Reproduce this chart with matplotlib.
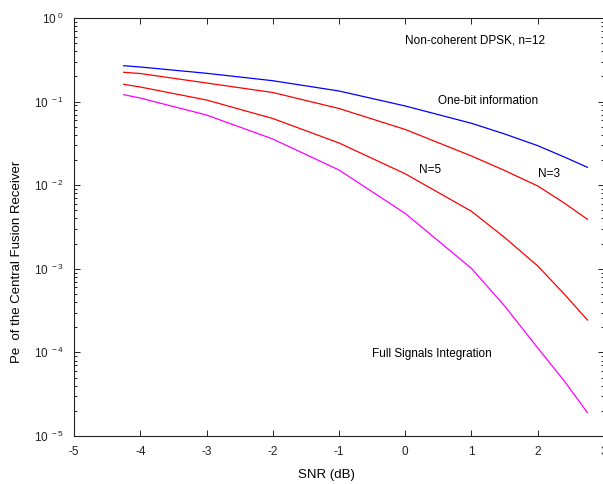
import numpy as np
import matplotlib
matplotlib.use('Agg')
import matplotlib.pyplot as plt
from matplotlib.ticker import FixedLocator, FuncFormatter, LogLocator, NullFormatter

plt.rcParams['font.family'] = ['Liberation Sans', 'DejaVu Sans']
plt.rcParams['mathtext.default'] = 'regular'
plt.rcParams['axes.unicode_minus'] = False

# SNR (dB) sample points
snr = [-4.25, -4, -3, -2, -1, 0, 1, 1.5, 2, 2.4, 2.75]
one_bit = [0.2688, 0.2594, 0.2181, 0.1778, 0.1339, 0.0886, 0.0550, 0.0410, 0.0297, 0.02175, 0.01637]
n3 = [0.2241, 0.2168, 0.1669, 0.1285, 0.0827, 0.0464, 0.02235, 0.01499, 0.00978, 0.00612, 0.00391]
n5 = [0.1610, 0.1495, 0.1045, 0.0628, 0.0320, 0.01369, 0.00487, 0.002367, 0.00108, 4.99e-4, 2.44e-4]
full = [0.1209, 0.1104, 0.0691, 0.0357, 0.0152, 0.00459, 0.00101, 3.59e-4, 1.13e-4, 4.55e-5, 1.90e-5]

x_ticks = [-5, -4, -3, -2, -1, 0, 1, 2, 3]
y_decades = [-5, -4, -3, -2, -1, 0]

fig = plt.figure(figsize=(6.03, 4.84), dpi=100)
ax = fig.add_axes([74/603, 48/484, 530/603, 418/484])

lw = 0.9
ax.plot(snr, one_bit, color='#0000ff', lw=lw)
ax.plot(snr, n3, color='#ff0000', lw=lw)
ax.plot(snr, n5, color='#ff0000', lw=lw)
ax.plot(snr, full, color='#ff00ff', lw=lw)

ax.set_yscale('log')
ax.set_xlim(-5, 3)
ax.set_ylim(1e-5, 1)

ax.xaxis.set_major_locator(FixedLocator(x_ticks))
ax.yaxis.set_major_locator(FixedLocator([10.0**d for d in y_decades]))
ax.yaxis.set_minor_locator(LogLocator(base=10, subs=np.arange(2, 10)))
ax.yaxis.set_minor_formatter(NullFormatter())
ax.yaxis.set_major_formatter(FuncFormatter(
    lambda v, p: '10$^{\\ %d}$' % int(round(np.log10(v)))))

ax.tick_params(which='both', direction='in', top=True, right=True,
               labelsize=8.5, width=0.7, colors='#222222')
ax.tick_params(which='major', length=4.5, pad=7)
ax.tick_params(which='minor', length=2.2)
for s in ax.spines.values():
    s.set_linewidth(0.8)
    s.set_color('#222222')

ax.set_xlabel('SNR (dB)', fontsize=9.5)
ax.set_ylabel('Pe  of the Central Fusion Receiver', fontsize=9.5)
ax.xaxis.set_label_coords(0.477, -0.079)
ax.yaxis.set_label_coords(-0.096, 0.416)

ax.text(-0.0, 0.5, 'Non-coherent DPSK, n=12', fontsize=8.5)
ax.text(0.5, 0.094, 'One-bit information', fontsize=8.5)
ax.text(0.21, 0.0141, 'N=5', fontsize=8.5)
ax.text(2.0, 0.0127, 'N=3', fontsize=8.5)
ax.text(-0.5, 8.9e-5, 'Full Signals Integration', fontsize=8.5)

fig.savefig('out.png', dpi=100)
